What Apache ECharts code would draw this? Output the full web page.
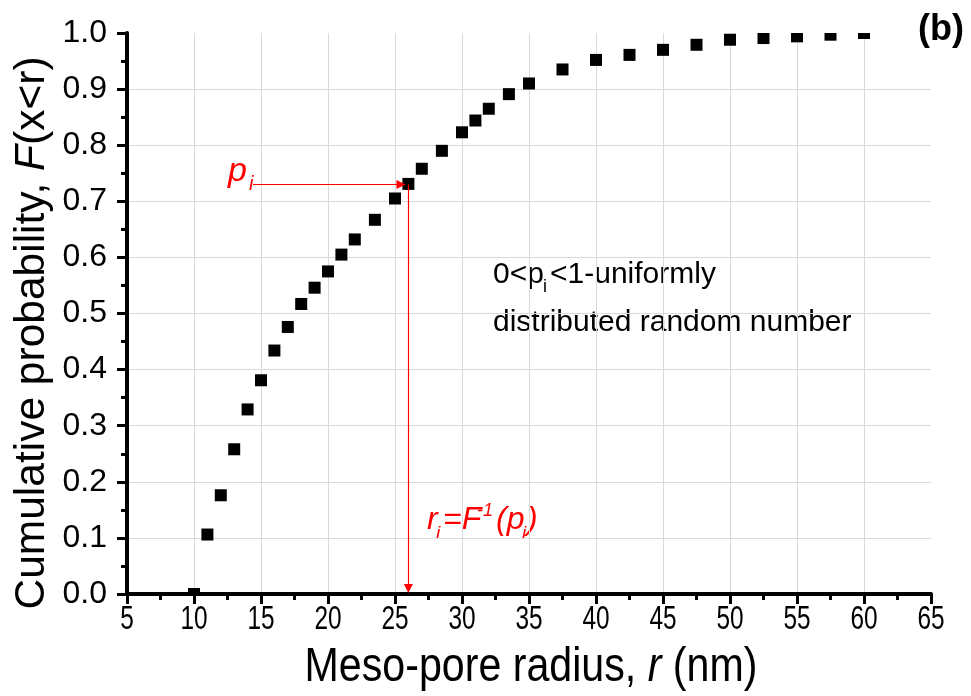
<!DOCTYPE html>
<html>
<head>
<meta charset="utf-8">
<script src="https://cdn.jsdelivr.net/npm/echarts@6/dist/echarts.min.js"></script>
<style>
html,body{margin:0;padding:0;background:#fff;}
#chart{width:971px;height:696px;}
</style>
</head>
<body>
<div id="chart"></div>
<script>
// Meso-pore radius r (nm)
const radius = [10, 11, 12, 13, 14, 15, 16, 17, 18, 19, 20, 21, 22, 23.5, 25, 26, 27, 28.5, 30, 31, 32, 33.5, 35, 37.5, 40, 42.5, 45, 47.5, 50, 52.5, 55, 57.5, 60];
// Cumulative probability F(x<r)
const cumProb = [0.0, 0.106, 0.176, 0.258, 0.329, 0.381, 0.434, 0.476, 0.517, 0.546, 0.575, 0.605, 0.632, 0.667, 0.705, 0.731, 0.758, 0.790, 0.823, 0.844, 0.865, 0.891, 0.910, 0.935, 0.952, 0.961, 0.970, 0.979, 0.988, 0.991, 0.994, 0.997, 1.0];
// tick labels
const xTicks = [5, 10, 15, 20, 25, 30, 35, 40, 45, 50, 55, 60, 65];
const yTicks = [0.0, 0.1, 0.2, 0.3, 0.4, 0.5, 0.6, 0.7, 0.8, 0.9, 1.0];
// illustrative inverse-sampling example: p_i and r_i = F^-1(p_i)
const exampleP = 0.73;
const exampleR = 26;
const arrowStartX = 14.4;
const arrowEndX = 25.45;
const arrowEndY = 0.01;

const chart = echarts.init(document.getElementById('chart'));
const sans = "'Liberation Sans', Arial, sans-serif";
const red = '#ff0000';

const pts = radius.map((r, i) => [r, cumProb[i]]);

chart.setOption({
  animation: false,
  backgroundColor: '#fff',
  grid: { left: 127, right: 40, top: 33, bottom: 102, containLabel: false },
  xAxis: {
    type: 'value',
    min: xTicks[0], max: xTicks[xTicks.length - 1], interval: 5,
    axisLine: { show: true, onZero: false, lineStyle: { color: '#000', width: 4 } },
    axisTick: { show: true, inside: false, length: 10, lineStyle: { color: '#000', width: 3 } },
    minorTick: { show: true, splitNumber: 2, length: 6, lineStyle: { color: '#000', width: 3 } },
    axisLabel: { show: false },
    splitLine: { show: true, showMaxLine: false, lineStyle: { color: '#d9d9d9', width: 1 } }
  },
  yAxis: {
    type: 'value',
    min: yTicks[0], max: yTicks[yTicks.length - 1], interval: 0.1,
    axisLine: { show: true, onZero: false, lineStyle: { color: '#000', width: 4 } },
    axisTick: { show: true, inside: false, length: 10, lineStyle: { color: '#000', width: 3 } },
    minorTick: { show: true, splitNumber: 2, length: 6, lineStyle: { color: '#000', width: 3 } },
    axisLabel: { fontFamily: sans, fontSize: 32, color: '#000', margin: 20,
      formatter: v => v.toFixed(1) },
    splitLine: { show: true, showMaxLine: false, lineStyle: { color: '#d9d9d9', width: 1 } }
  },
  series: [
    {
      type: 'custom',
      name: 'F(x<r)',
      clip: true,
      data: pts,
      z: 3,
      renderItem: function (params, api) {
        const p = api.coord([api.value(0), api.value(1)]);
        const s = 12;
        return { type: 'rect', shape: { x: p[0] - s / 2, y: p[1] - s / 2, width: s, height: s },
          style: { fill: '#000' } };
      }
    },
    {
      // x tick labels (tall, condensed as in the original)
      type: 'custom',
      clip: false,
      silent: true,
      data: xTicks.map(v => [v]),
      renderItem: function (params, api) {
        const v = api.value(0);
        const p = api.coord([v, yTicks[0]]);
        return { type: 'text', x: p[0], y: p[1] + 9, scaleX: 0.74,
          style: { text: String(v), font: '33px ' + sans, fill: '#000', align: 'center', verticalAlign: 'top' } };
      }
    },
    {
      type: 'scatter',
      data: [],
      symbolSize: 0,
      silent: true,
      markLine: {
        silent: true,
        animation: false,
        symbol: ['none', 'triangle'],
        symbolSize: 9,
        label: { show: false },
        lineStyle: { color: red, width: 1.2, type: 'solid' },
        emphasis: { disabled: true },
        data: [
          [{ coord: [arrowStartX, exampleP] }, { coord: [arrowEndX, exampleP] }],
          [{ coord: [exampleR, exampleP] }, { coord: [exampleR, arrowEndY] }]
        ]
      }
    }
  ],
  graphic: [
    // axis titles
    { type: 'text', x: 531, y: 667, scaleX: 0.84,
      style: { text: 'Meso-pore radius, {i|r} (nm)', font: '49px ' + sans, fill: '#000', align: 'center', verticalAlign: 'middle',
        rich: { i: { fontFamily: sans, fontSize: 49, fontStyle: 'italic', fill: '#000' } } } },
    { type: 'text', x: 32, y: 333, rotation: Math.PI / 2,
      style: { text: 'Cumulative probability, {i|F}(x<r)', font: '42.5px ' + sans, fill: '#000', align: 'center', verticalAlign: 'middle',
        rich: { i: { fontFamily: sans, fontSize: 42.5, fontStyle: 'italic', fill: '#000' } } } },
    { type: 'text', left: 918, top: 12, style: { text: '(b)', font: 'bold 36px ' + sans, fill: '#000' } },
    // p_i
    { type: 'text', x: 228, y: 172, style: { text: 'p', font: 'italic 34px ' + sans, fill: red, verticalAlign: 'middle' } },
    { type: 'text', x: 249, y: 184, style: { text: 'i', font: 'italic 20px ' + sans, fill: red, verticalAlign: 'middle' } },
    // 0<p_i<1-uniformly distributed random number
    { type: 'text', x: 493, y: 275, style: { text: '0<p', font: '30px ' + sans, fill: '#000', verticalAlign: 'middle' } },
    { type: 'text', x: 543, y: 287, style: { text: 'i', font: '18px ' + sans, fill: '#000', verticalAlign: 'middle' } },
    { type: 'text', x: 550, y: 275, style: { text: '<1-uniformly', font: '30px ' + sans, fill: '#000', verticalAlign: 'middle' } },
    { type: 'text', x: 493, y: 323, style: { text: 'distributed random number', font: '30px ' + sans, fill: '#000', verticalAlign: 'middle' } },
    // r_i = F^-1(p_i)
    { type: 'text', x: 427, y: 520, style: { text: 'r', font: 'italic 32px ' + sans, fill: red, verticalAlign: 'middle' } },
    { type: 'text', x: 436, y: 534, style: { text: 'i', font: 'italic 19px ' + sans, fill: red, verticalAlign: 'middle' } },
    { type: 'text', x: 443, y: 520, style: { text: '=F', font: 'italic 32px ' + sans, fill: red, verticalAlign: 'middle' } },
    { type: 'text', x: 477, y: 511, style: { text: '-1', font: 'italic 18px ' + sans, fill: red, verticalAlign: 'middle' } },
    { type: 'text', x: 496, y: 520, style: { text: '(p', font: 'italic 32px ' + sans, fill: red, verticalAlign: 'middle' } },
    { type: 'text', x: 522, y: 534, style: { text: 'i', font: 'italic 19px ' + sans, fill: red, verticalAlign: 'middle' } },
    { type: 'text', x: 527, y: 520, style: { text: ')', font: 'italic 32px ' + sans, fill: red, verticalAlign: 'middle' } }
  ]
});
</script>
</body>
</html>
